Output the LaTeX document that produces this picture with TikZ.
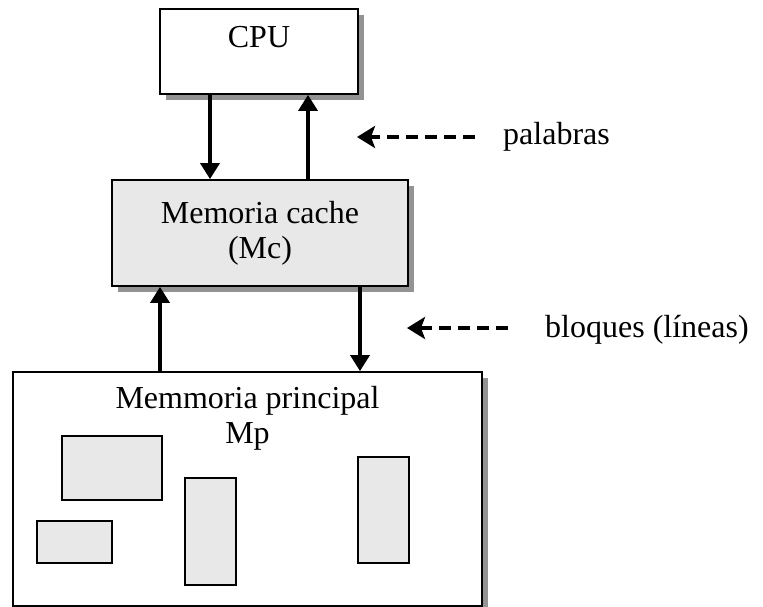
\documentclass[tikz,border=0pt]{standalone}
\usepackage{fontspec}
\setmainfont{Liberation Serif}
\usetikzlibrary{arrows.meta,shadows}

\tikzset{
  caja/.style={draw=black,line width=1.8pt,inner sep=0pt,
    drop shadow={shadow xshift=6pt,shadow yshift=-6pt,fill=gray!85,opacity=1}},
  texto/.style={font=\fontsize{32}{35}\selectfont,inner sep=0pt,align=center},
  bloque/.style={draw=black,line width=1.5pt,fill=gray!18,inner sep=0pt},
  flecha/.style={line width=3.6pt,-{Triangle[length=16pt,width=19pt]}},
  guia/.style={line width=3.8pt,dash pattern=on 12pt off 7pt,-{Stealth[length=18pt,width=22pt,inset=4pt]}}
}

\begin{document}
\begin{tikzpicture}[x=1pt,y=-1pt]
  \useasboundingbox (0,0) rectangle (763,607);
  % cajas
  \node[caja,fill=white,minimum width=198pt,minimum height=85pt] (cpu) at (259,51.5) {};
  \node[caja,fill=gray!18,minimum width=296pt,minimum height=106pt,texto] (cache) at (260,233) {Memoria cache\\(Mc)};
  \node[caja,fill=white,minimum width=469pt,minimum height=234pt] (mp) at (247.5,489) {};
  \node[texto,anchor=base] (cputxt) at (259,48) {CPU};
  \node[texto,anchor=base] (mptxt) at (247.5,443) {Memmoria principal\\Mp};
  % bloques dentro de Mp
  \node[bloque,minimum width=100pt,minimum height=64pt] (b1) at (112,468) {};
  \node[bloque,minimum width=75pt,minimum height=42pt] (b2) at (74.5,542) {};
  \node[bloque,minimum width=51pt,minimum height=107pt] (b3) at (210.5,531.5) {};
  \node[bloque,minimum width=51pt,minimum height=106pt] (b4) at (383.5,510) {};
  % flechas
  \draw[flecha] ([xshift=-49pt]cpu.south) -- ([xshift=-50pt]cache.north);
  \draw[flecha] ([xshift=48pt]cache.north) -- ([xshift=49pt]cpu.south);
  \draw[flecha] ([xshift=-87.5pt]mp.north) -- ([xshift=-100pt]cache.south);
  \draw[flecha] ([xshift=100pt]cache.south) -- ([xshift=112.5pt]mp.north);
  % etiquetas
  \node[texto,anchor=base west] (pal) at (503,145) {palabras};
  \node[texto,anchor=base west] (blq) at (545,337) {bloques (líneas)};
  \coordinate (ppal) at (357,137);
  \coordinate (pblq) at (407,328);
  \draw[guia] (pal.west |- ppal) ++(-28,0) -- (ppal);
  \draw[guia] (blq.west |- pblq) ++(-37,0) -- (pblq);
\end{tikzpicture}
\end{document}
